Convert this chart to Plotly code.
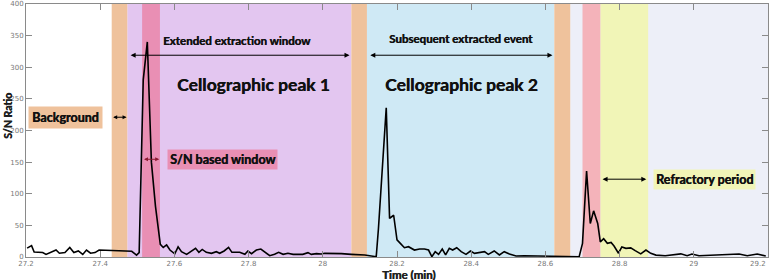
import plotly.graph_objects as go

# ---------------- data ----------------
time_min = [27.203, 27.215, 27.222, 27.233, 27.245, 27.254, 27.265, 27.281, 27.290, 27.305,
            27.318, 27.329, 27.341, 27.353, 27.363, 27.374, 27.386, 27.397, 27.485, 27.498,
            27.505, 27.516, 27.527, 27.538, 27.549, 27.556, 27.562, 27.570, 27.579, 27.588,
            27.601, 27.610, 27.619, 27.633, 27.646, 27.657, 27.666, 27.675, 27.686, 27.700,
            27.713, 27.722, 27.734, 27.746, 27.755, 27.776, 27.790, 27.798, 27.808, 27.821,
            27.833, 27.843, 27.857, 27.870, 27.881, 27.893, 27.906, 27.920, 27.946, 27.960,
            27.969, 27.983, 27.996, 28.005, 28.023, 28.050, 28.077, 28.113, 28.144, 28.150,
            28.171, 28.180, 28.191, 28.200, 28.209, 28.220, 28.231, 28.247, 28.261, 28.274,
            28.285, 28.294, 28.303, 28.312, 28.322, 28.331, 28.341, 28.350, 28.361, 28.373,
            28.386, 28.398, 28.409, 28.422, 28.436, 28.446, 28.462, 28.476, 28.489, 28.503,
            28.521, 28.543, 28.597, 28.687, 28.691, 28.700, 28.711, 28.721, 28.730, 28.741,
            28.748, 28.757, 28.767, 28.777, 28.785, 28.797, 28.806, 28.817, 28.830, 28.842,
            28.857, 28.871, 28.884, 28.898, 28.923, 28.965, 28.982, 28.995, 29.014, 29.122,
            29.144, 29.171, 29.194]
sn_ratio = [14, 18, 8, 7, 7, 4, 7, 11, 6, 7,
            15, 7, 9.5, 4, 11, 6, 7, 11, 9, 3,
            7, 280, 340, 150, 80, 43, 20, 15, 19, 11,
            5, 16, 8.4, 4.2, 9.5, 13.7, 7.4, 12, 7.4, 5.8,
            8.4, 5.8, 9.5, 15.3, 7.4, 7.4, 4.2, 9.5, 5.3, 11,
            12.6, 8.4, 2, 4.2, 7.4, 4.2, 5.8, 4.2, 4.2, 6.9,
            4.2, 5.3, 4.7, 5.8, 5.8, 5.3, 4.2, 3.2, 0.5, 45,
            236, 61, 66, 27, 21.6, 14.7, 16.3, 11, 12.6, 12.6,
            11, 0.5, 8.4, 4.2, 12.6, 3.2, 13.7, 11, 14.7, 8.4,
            4.2, 9.5, 5.8, 7.4, 8.4, 4.2, 9.5, 3.2, 8.4, 4.7,
            1.6, 2, 1.6, 1.6, 0.5, 21.6, 136, 53, 73, 53,
            24, 29, 21.6, 23, 17.4, 6, 16, 13.7, 14.5, 10,
            5, 11, 5.8, 3, 2, 5, 2, 4.7, 2, 4.7,
            2, 4.7, 1.6]

# shaded windows (minutes), drawn in this order
band_start = [28.667, 28.748, 28.700, 27.473, 27.513, 27.431, 28.077, 28.119, 28.624]
band_end   = [29.200, 28.877, 28.748, 28.077, 27.561, 27.473, 28.119, 28.624, 28.667]

x_ticks = [27.2, 27.4, 27.6, 27.8, 28.0, 28.2, 28.4, 28.6, 28.8, 29.0, 29.2]
x_tick_text = ["27.2", "27.4", "27.6", "27.8", "28", "28.2", "28.4", "28.6", "28.8", "29", "29.2"]
y_ticks = [0, 50, 100, 150, 200, 250, 300, 350, 400]

# ---------------- styles ----------------
band_colors = ["#EDEFF8", "#F1F5B7", "#F4B3BA", "#E3C6F0", "#E98FB4",
               "#EFC29C", "#EFC29C", "#CFE9F5", "#EFC29C"]
BOLD = "Lato"
HEAVY = "0.45px 0 0 #111"
AX_GRAY = "#8a8a8a"
TICK_FONT = dict(family="DejaVu Sans", size=7, color="#777")

fig = go.Figure()

fig.add_trace(go.Scatter(x=time_min, y=sn_ratio, mode="lines",
                         line=dict(color="black", width=1.6), showlegend=False,
                         hoverinfo="skip"))

for s, e, c in zip(band_start, band_end, band_colors):
    fig.add_shape(type="rect", xref="x", yref="y", x0=s, x1=e, y0=0, y1=400,
                  fillcolor=c, line=dict(width=0), layer="below")

def double_arrow(x0, x1, y, color="black", size=1.0, width=1.0):
    fig.add_annotation(x=x1, y=y, ax=x0, ay=y, xref="x", yref="y", axref="x", ayref="y",
                       text="", showarrow=True, arrowhead=2, arrowside="end+start",
                       arrowsize=size, arrowwidth=width, arrowcolor=color,
                       standoff=0, startstandoff=0)

double_arrow(27.478, 28.072, 319)
double_arrow(28.124, 28.619, 319)
double_arrow(27.431, 27.471, 221, size=0.8)
double_arrow(27.514, 27.559, 154.5, color="#8B1A30", size=0.8)
double_arrow(28.750, 28.872, 123)

def label(x, y, text, size, bg=None, pad=2):
    fig.add_annotation(x=x, y=y, xref="x", yref="y", text="<b>%s</b>" % text,
                       showarrow=False,
                       font=dict(family=BOLD, size=size, color="#111", shadow=HEAVY),
                       bgcolor=bg, borderpad=pad)

label(27.769, 343, "Extended extraction window", 11.5)
label(28.373, 345, "Subsequent extracted event", 11.5)
label(27.812, 272, "Cellographic peak 1", 17.5)
label(28.374, 272, "Cellographic peak 2", 17.5)
label(27.307, 221, "Background", 12.5, bg="#EFC29C", pad=3)
label(27.730, 154.5, "S/N based window", 12.5, bg="#E98FB4", pad=2)
label(29.030, 122, "Refractory period", 12.5, bg="#F1F5B7", pad=2)

# axis titles
fig.add_annotation(x=0, y=223, xref="paper", yref="y", xanchor="left", xshift=-26,
                   text="<b>S/N Ratio</b>", textangle=-90, showarrow=False,
                   font=dict(family=BOLD, size=10.5, color="#222", shadow=HEAVY))
fig.add_annotation(x=28.231, y=0, xref="x", yref="paper", yanchor="top", yshift=-9,
                   text="<b>Time (min)</b>", showarrow=False,
                   font=dict(family=BOLD, size=11.5, color="#222", shadow=HEAVY))

# last x tick label sits flush against the right edge, as in the reference
fig.add_annotation(x=x_ticks[-1], y=0, xref="x", yref="paper", xanchor="right",
                   yanchor="top", yshift=-1, text=x_tick_text[-1], showarrow=False,
                   font=TICK_FONT)

axis_common = dict(showgrid=False, zeroline=False, showline=True, linecolor=AX_GRAY,
                   linewidth=1, mirror="ticks", ticks="inside", ticklen=6,
                   tickcolor=AX_GRAY, tickwidth=1, ticklabeloverflow="allow",
                   automargin=False, tickfont=TICK_FONT)

fig.update_xaxes(range=[27.2, 29.2], tickvals=x_ticks,
                 ticktext=x_tick_text[:-1] + [""], **axis_common)
fig.update_yaxes(range=[0, 400], tickvals=y_ticks, **axis_common)

fig.update_layout(width=769, height=280, margin=dict(l=26, r=1, t=4, b=23),
                  paper_bgcolor="white", plot_bgcolor="white", showlegend=False)

fig.write_html("out.html")
